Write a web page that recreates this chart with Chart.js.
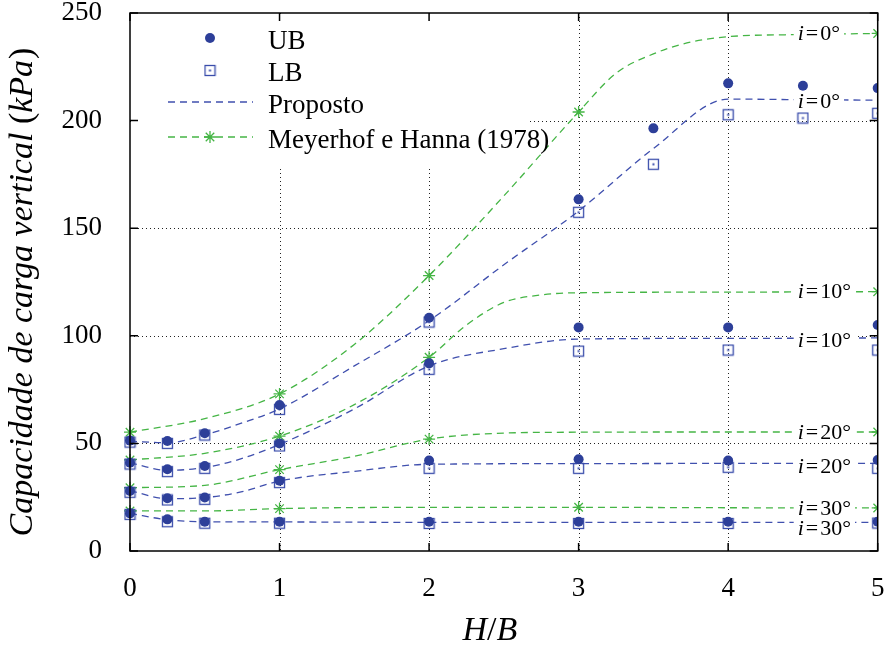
<!DOCTYPE html>
<html lang="pt">
<head>
<meta charset="UTF-8">
<title>Capacidade de carga vertical x H/B</title>
<script src="https://cdn.jsdelivr.net/npm/chart.js@4.4.0/dist/chart.umd.min.js"></script>
<style>
  html, body { margin: 0; padding: 0; background: #fff; }
  #wrap { width: 885px; height: 649px; }
</style>
</head>
<body>
<div id="wrap"><canvas id="chart" width="885" height="649"></canvas></div>
<script>
// tick labels
const xTicks = [0, 1, 2, 3, 4, 5];
const yTicks = [0, 50, 100, 150, 200, 250];

// H/B where the numerical results were taken
const hb0 = [0, 0.25, 0.5, 1, 2, 3, 3.5, 4, 4.5, 5];
const hb = [0, 0.25, 0.5, 1, 2, 3, 4, 5];

// UB (upper bound) and LB (lower bound), kPa
const ub0  = [51.3, 51.1, 54.7, 67.8, 108.4, 163.4, 196.4, 217.3, 216.2, 215.1];
const lb0  = [50.6, 50.0, 53.9, 65.8, 106.4, 157.4, 179.7, 202.7, 201.2, 203.4];
const ub10 = [41.0, 38.0, 39.5, 50.0, 87.2, 103.9, 103.9, 105.0];
const lb10 = [40.4, 36.9, 38.4, 48.8, 84.4, 92.9, 93.4, 93.4];
const ub20 = [27.9, 24.5, 24.9, 32.7, 42.0, 42.6, 42.0, 42.3];
const lb20 = [27.3, 23.7, 24.0, 31.8, 38.4, 38.4, 38.9, 38.4];
const ub30 = [17.5, 14.7, 13.6, 13.6, 13.6, 13.6, 13.6, 13.6];
const lb30 = [17.0, 13.6, 12.9, 12.9, 12.8, 12.8, 12.8, 13.0];

// Proposto (curves)
const propX0  = [0, 0.25, 0.5, 0.75, 1, 1.5, 2, 2.5, 3, 3.5, 4, 4.5, 5];
const prop0   = [51.0, 50.3, 54.0, 59.5, 66.0, 86.0, 107.0, 133.0, 158.0, 187.0, 210.0, 209.7, 209.5];
const propX10 = [0, 0.25, 0.5, 0.75, 1, 1.5, 2, 2.5, 3, 4, 5];
const prop10  = [41.0, 37.5, 38.8, 43.0, 49.5, 66.0, 86.0, 94.0, 98.5, 98.8, 99.0];
const propX20 = [0, 0.25, 0.5, 0.75, 1, 1.5, 2, 3, 4, 5];
const prop20  = [28.0, 24.3, 24.8, 27.6, 32.5, 37.0, 40.3, 40.6, 40.7, 40.7];
const propX30 = [0, 0.25, 0.5, 1, 2, 3, 4, 5];
const prop30  = [17.5, 14.5, 13.6, 13.5, 13.3, 13.3, 13.3, 13.3];

// Meyerhof e Hanna (1978) (curves)
const mhX0  = [0, 0.5, 1, 1.5, 2, 2.5, 3, 3.25, 3.5, 3.75, 4, 4.5, 5];
const mh0   = [55.2, 61.5, 73.0, 96.0, 128.0, 165.0, 204.0, 222.0, 231.0, 236.5, 239.0, 240.0, 240.5];
const mhX10 = [0, 0.5, 1, 1.5, 2, 2.25, 2.5, 2.75, 3, 4, 5];
const mh10  = [42.3, 45.4, 53.4, 68.0, 90.0, 105.0, 115.5, 119.0, 120.0, 120.3, 120.5];
const mhX20 = [0, 0.5, 1, 1.5, 2, 2.5, 3, 4, 5];
const mh20  = [29.4, 30.5, 37.8, 44.0, 52.0, 54.8, 55.2, 55.3, 55.3];
const mhX30 = [0, 0.5, 1, 2, 3, 4, 5];
const mh30  = [18.6, 18.6, 19.7, 20.3, 20.3, 20.1, 20.0];
// where the star markers sit on each curve
const mhStars0  = [0, 1, 2, 3, 5];
const mhStars10 = [0, 1, 2, 5];
const mhStars20 = [0, 1, 2, 5];
const mhStars30 = [0, 1, 3, 5];

// inclination labels on the right
const angles = [0, 10, 20, 30];
const mhLabelY = [240.7, 120.5, 55.3, 19.8];
const propLabelY = [209.1, 98.0, 39.2, 10.5];
const labelX = 4.465;

const legendLabels = ['UB', 'LB', 'Proposto', 'Meyerhof e Hanna (1978)'];

const SERIF = '"Liberation Serif", "DejaVu Serif", serif';
const BLUE = '#2d3f99';
const BLUE_LINE = '#4050ae';
const GREEN = '#45b545';

function pts(xs, ys) { return xs.map((v, i) => ({ x: v, y: ys[i] })); }
function starPts(xs, ys, at) { return at.map(v => ({ x: v, y: ys[xs.indexOf(v)] })); }

// open square with a dot in the centre (LB)
function makeSquare(color) {
  const c = document.createElement('canvas');
  c.width = 13; c.height = 13;
  const g = c.getContext('2d');
  g.strokeStyle = color;
  g.lineWidth = 1.3;
  g.strokeRect(1.5, 1.5, 10, 10);
  g.fillStyle = color;
  g.fillRect(5.5, 5.5, 2, 2);
  return c;
}
const squareImg = makeSquare('#3a4dab');

const clipArea = { left: 8, top: 0, right: 0, bottom: 0 };

function ubSet(xs, ys) {
  return { data: pts(xs, ys), showLine: false, pointStyle: 'circle', pointRadius: 5,
    pointBackgroundColor: BLUE, pointBorderColor: BLUE, pointBorderWidth: 0, clip: clipArea };
}
function lbSet(xs, ys) {
  return { data: pts(xs, ys), showLine: false, pointStyle: squareImg, pointRadius: 6, clip: clipArea };
}
function curveSet(xs, ys, color) {
  return { data: pts(xs, ys), showLine: true, borderColor: color, borderWidth: 1.3, borderDash: [7, 5],
    pointRadius: 0, cubicInterpolationMode: 'monotone', fill: false, clip: clipArea };
}
function starSet(xs, ys, at) {
  return { data: starPts(xs, ys, at), showLine: false, pointStyle: 'star', pointRadius: 6,
    pointBorderColor: GREEN, pointBorderWidth: 1.3, clip: clipArea };
}

const datasets = [
  ubSet(hb0, ub0), ubSet(hb, ub10), ubSet(hb, ub20), ubSet(hb, ub30),
  lbSet(hb0, lb0), lbSet(hb, lb10), lbSet(hb, lb20), lbSet(hb, lb30),
  starSet(mhX0, mh0, mhStars0), starSet(mhX10, mh10, mhStars10),
  starSet(mhX20, mh20, mhStars20), starSet(mhX30, mh30, mhStars30),
  curveSet(propX0, prop0, BLUE_LINE), curveSet(propX10, prop10, BLUE_LINE),
  curveSet(propX20, prop20, BLUE_LINE), curveSet(propX30, prop30, BLUE_LINE),
  curveSet(mhX0, mh0, GREEN), curveSet(mhX10, mh10, GREEN),
  curveSet(mhX20, mh20, GREEN), curveSet(mhX30, mh30, GREEN)
];

// text made of plain and italic pieces, drawn from (x, y) to the right
function richText(ctx, parts, x, y, size) {
  let cx = x;
  parts.forEach(p => {
    ctx.font = (p[1] ? 'italic ' : '') + size + 'px ' + SERIF;
    ctx.fillText(p[0], cx, y);
    cx += ctx.measureText(p[0]).width + (p[2] || 0);
  });
  return cx - x;
}
function richWidth(ctx, parts, size) {
  let w = 0;
  parts.forEach(p => {
    ctx.font = (p[1] ? 'italic ' : '') + size + 'px ' + SERIF;
    w += ctx.measureText(p[0]).width + (p[2] || 0);
  });
  return w;
}

const decor = {
  id: 'decor',
  beforeDatasetsDraw(chart) {
    const { ctx, chartArea: a, scales: { x, y } } = chart;
    ctx.save();
    // dotted grid
    ctx.strokeStyle = '#222';
    ctx.lineWidth = 1;
    ctx.setLineDash([1, 3]);
    ctx.beginPath();
    xTicks.slice(1, -1).forEach(v => {
      const px = Math.round(x.getPixelForValue(v)) + 0.5;
      ctx.moveTo(px, a.top); ctx.lineTo(px, a.bottom);
    });
    yTicks.slice(1, -1).forEach(v => {
      const py = Math.round(y.getPixelForValue(v)) + 0.5;
      ctx.moveTo(a.left, py); ctx.lineTo(a.right, py);
    });
    ctx.stroke();
    ctx.setLineDash([]);
    // opaque key box
    ctx.fillStyle = '#fff';
    ctx.fillRect(a.left + 1, a.top + 1, 396, 155);
    ctx.restore();
  },
  afterDatasetsDraw(chart) {
    const { ctx, chartArea: a, scales: { x, y } } = chart;
    ctx.save();
    // inclination labels
    ctx.textBaseline = 'middle';
    ctx.fillStyle = '#000';
    const lx = x.getPixelForValue(labelX);
    const drawLabel = (ang, val) => {
      const parts = [['i', true, 2], ['=', false, 2], [ang + '°', false]];
      const w = richWidth(ctx, parts, 22);
      const py = y.getPixelForValue(val);
      ctx.fillStyle = '#fff';
      ctx.fillRect(lx - 4, py - 10, w + 8, 21);
      ctx.fillStyle = '#000';
      richText(ctx, parts, lx, py + 1, 22);
    };
    angles.forEach((ang, i) => { drawLabel(ang, mhLabelY[i]); drawLabel(ang, propLabelY[i]); });

    // frame and inward ticks
    ctx.strokeStyle = '#000';
    ctx.lineWidth = 1.5;
    ctx.strokeRect(a.left, a.top, a.width, a.height);
    ctx.beginPath();
    xTicks.forEach(v => {
      const px = x.getPixelForValue(v);
      ctx.moveTo(px, a.bottom); ctx.lineTo(px, a.bottom - 8);
      ctx.moveTo(px, a.top); ctx.lineTo(px, a.top + 8);
    });
    yTicks.forEach(v => {
      const py = y.getPixelForValue(v);
      ctx.moveTo(a.left, py); ctx.lineTo(a.left + 8, py);
      ctx.moveTo(a.right, py); ctx.lineTo(a.right - 8, py);
    });
    ctx.stroke();

    // key
    const mx = a.left + 80, tx = a.left + 138;
    const rows = [a.top + 25, a.top + 57.5, a.top + 89, a.top + 124];
    ctx.fillStyle = BLUE;
    ctx.beginPath(); ctx.arc(mx, rows[0], 5, 0, Math.PI * 2); ctx.fill();
    ctx.drawImage(squareImg, mx - 6.5, rows[1] - 6.5);
    ctx.lineWidth = 1.3;
    ctx.setLineDash([7, 5]);
    ctx.strokeStyle = BLUE_LINE;
    ctx.beginPath(); ctx.moveTo(a.left + 38, rows[2]); ctx.lineTo(a.left + 123, rows[2]); ctx.stroke();
    ctx.strokeStyle = GREEN;
    ctx.beginPath(); ctx.moveTo(a.left + 38, rows[3]); ctx.lineTo(a.left + 123, rows[3]); ctx.stroke();
    ctx.setLineDash([]);
    ctx.beginPath();
    for (let k = 0; k < 4; k++) {
      const t = k * Math.PI / 4;
      ctx.moveTo(mx - 6 * Math.cos(t), rows[3] - 6 * Math.sin(t));
      ctx.lineTo(mx + 6 * Math.cos(t), rows[3] + 6 * Math.sin(t));
    }
    ctx.stroke();
    ctx.fillStyle = '#000';
    ctx.textBaseline = 'alphabetic';
    ctx.font = '27px ' + SERIF;
    legendLabels.forEach((t, i) => ctx.fillText(t, tx, rows[i] + 10.5));
    ctx.restore();
  },
  afterDraw(chart) {
    const { ctx, chartArea: a } = chart;
    ctx.save();
    ctx.fillStyle = '#000';
    ctx.textBaseline = 'middle';
    // x title
    const xParts = [['H', true], ['/', false], ['B', true]];
    const xw = richWidth(ctx, xParts, 34);
    richText(ctx, xParts, (a.left + a.right) / 2 - 14 - xw / 2, 631, 34);
    // y title
    const yParts = [['Capacidade de carga vertical ', true], ['(', false], ['kPa', true, 1], [')', false]];
    const yw = richWidth(ctx, yParts, 34);
    ctx.translate(23, (a.top + a.bottom) / 2 + 10);
    ctx.rotate(-Math.PI / 2);
    richText(ctx, yParts, -yw / 2, 0, 34);
    ctx.restore();
  }
};

// fixed axis sizes, and no extra room for overhanging tick labels
function fitX(s) { s.height = 98; s.paddingLeft = 0; s.paddingRight = 0; s.paddingTop = 0; s.paddingBottom = 0; }
function fitY(s) { s.width = 130; s.paddingLeft = 0; s.paddingRight = 0; s.paddingTop = 0; s.paddingBottom = 0; }

new Chart(document.getElementById('chart'), {
  type: 'scatter',
  data: { datasets },
  plugins: [decor],
  options: {
    responsive: false,
    devicePixelRatio: 1,
    animation: false,
    events: [],
    layout: { padding: { top: 13, right: 7, left: 0, bottom: 0 } },
    plugins: { legend: { display: false }, tooltip: { enabled: false } },
    scales: {
      x: {
        type: 'linear', min: 0, max: 5,
        afterFit: fitX,
        afterBuildTicks: s => { s.ticks = xTicks.map(v => ({ value: v })); },
        grid: { display: false },
        border: { display: false },
        ticks: { padding: 14, color: '#000', font: { family: SERIF, size: 27 } }
      },
      y: {
        type: 'linear', min: 0, max: 250,
        afterFit: fitY,
        afterBuildTicks: s => { s.ticks = yTicks.map(v => ({ value: v })); },
        grid: { display: false },
        border: { display: false },
        ticks: { padding: 20, color: '#000', font: { family: SERIF, size: 27 } }
      }
    }
  }
});
</script>
</body>
</html>
